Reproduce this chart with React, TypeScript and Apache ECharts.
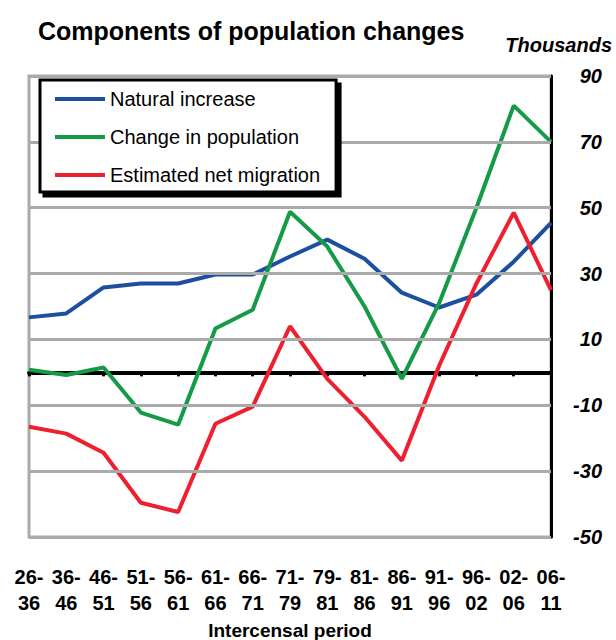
import React, { useEffect, useRef } from "react";
import * as echarts from "echarts";

const periods = ["26-\n36", "36-\n46", "46-\n51", "51-\n56", "56-\n61", "61-\n66", "66-\n71", "71-\n79", "79-\n81", "81-\n86", "86-\n91", "91-\n96", "96-\n02", "02-\n06", "06-\n11"];
const naturalIncrease = [16.7, 17.9, 25.8, 27, 27, 29.7, 29.7, 35.2, 40.3, 34.5, 24.2, 19.7, 23.6, 33.6, 45.4];
const changeInPopulation = [0.8, -0.8, 1.5, -12.2, -15.9, 13.3, 19, 48.8, 38.2, 20, -2, 21, 50, 81, 70];
const netMigration = [-16.5, -18.6, -24.4, -39.6, -42.4, -15.6, -10.4, 14, -2, -13.5, -26.8, 2, 27, 48.5, 25];
const yTicks = [-50, -30, -10, 10, 30, 50, 70, 90];

const FONT = "Liberation Sans, Arial, sans-serif";

export default function App() {
  const ref = useRef<HTMLDivElement>(null);
  useEffect(() => {
    if (!ref.current) return;
    const chart = echarts.init(ref.current, null, { renderer: "svg" });
    chart.setOption({
      animation: false,
      backgroundColor: "#fff",
      title: {
        text: "Components of population changes",
        left: 33,
        top: 13,
        textStyle: { fontFamily: FONT, fontSize: 25, fontWeight: "bold", color: "#000" },
      },
      graphic: [
        {
          type: "text",
          right: 4,
          top: 35,
          style: { text: "Thousands", font: "italic bold 20px " + FONT, fill: "#000" },
        },
      ],
      legend: {
        orient: "vertical",
        left: 40,
        top: 80,
        z: 20,
        data: ["Natural increase", "Change in population", "Estimated net migration"],
        icon: "rect",
        itemWidth: 50,
        itemHeight: 4,
        itemGap: 18,
        padding: [9, 16, 7, 15],
        backgroundColor: "#fff",
        borderColor: "#000",
        borderWidth: 3,
        shadowColor: "#000",
        shadowBlur: 0,
        shadowOffsetX: 4,
        shadowOffsetY: 4,
        textStyle: { fontFamily: FONT, fontSize: 20, color: "#000", lineHeight: 20 },
      },
      grid: {
        left: 29,
        right: 65,
        top: 76,
        bottom: 103,
        outerBoundsMode: "none",
        show: true,
        borderColor: "#aaa",
        borderWidth: 3,
      },
      xAxis: [
        {
          type: "category",
          data: periods,
          boundaryGap: false,
          axisLine: { onZero: true, lineStyle: { color: "#000", width: 4 } },
          axisTick: { show: true, length: 4, lineStyle: { color: "#000", width: 3 } },
          axisLabel: { show: false },
          splitLine: { show: false },
        },
        {
          type: "category",
          data: periods,
          boundaryGap: false,
          position: "bottom",
          axisLine: { show: false, onZero: false },
          axisTick: { show: false },
          axisLabel: {
            show: true,
            interval: 0,
            margin: 27,
            fontFamily: FONT,
            fontSize: 20,
            fontWeight: "bold",
            color: "#000",
            lineHeight: 26,
          },
          name: "Intercensal period",
          nameLocation: "middle",
          nameGap: 81,
          nameTextStyle: { fontFamily: FONT, fontSize: 19, fontWeight: "bold", color: "#000" },
        },
      ],
      yAxis: {
        type: "value",
        position: "right",
        min: -50,
        max: 90,
        interval: 10,
        axisLine: { show: true, lineStyle: { color: "#000", width: 3 } },
        axisTick: { show: false },
        splitLine: { show: false },
        axisLabel: {
          margin: 51,
          align: "right",
          fontFamily: FONT,
          fontSize: 20,
          fontStyle: "italic",
          fontWeight: "bold",
          color: "#000",
          formatter: (v: number) => (yTicks.includes(v) ? String(v) : ""),
        },
      },
      series: [
        {
          name: "gridlines",
          type: "line",
          data: [],
          z: 1,
          silent: true,
          markLine: {
            silent: true,
            symbol: "none",
            label: { show: false },
            lineStyle: { color: "#aaa", width: 3, type: "solid" },
            data: yTicks.map((v) => ({ yAxis: v })),
          },
        },
        {
          name: "Natural increase",
          type: "line",
          data: naturalIncrease,
          symbol: "none",
          z: 3,
          itemStyle: { color: "#1c4fa0" },
          lineStyle: { color: "#1c4fa0", width: 4 },
        },
        {
          name: "Change in population",
          type: "line",
          data: changeInPopulation,
          symbol: "none",
          z: 3,
          itemStyle: { color: "#159a48" },
          lineStyle: { color: "#159a48", width: 4 },
        },
        {
          name: "Estimated net migration",
          type: "line",
          data: netMigration,
          symbol: "none",
          z: 3,
          itemStyle: { color: "#ee2030" },
          lineStyle: { color: "#ee2030", width: 4 },
        },
      ],
    });
    return () => chart.dispose();
  }, []);
  return <div ref={ref} style={{ position: "absolute", left: 0, top: 0, width: 616, height: 640 }} />;
}
